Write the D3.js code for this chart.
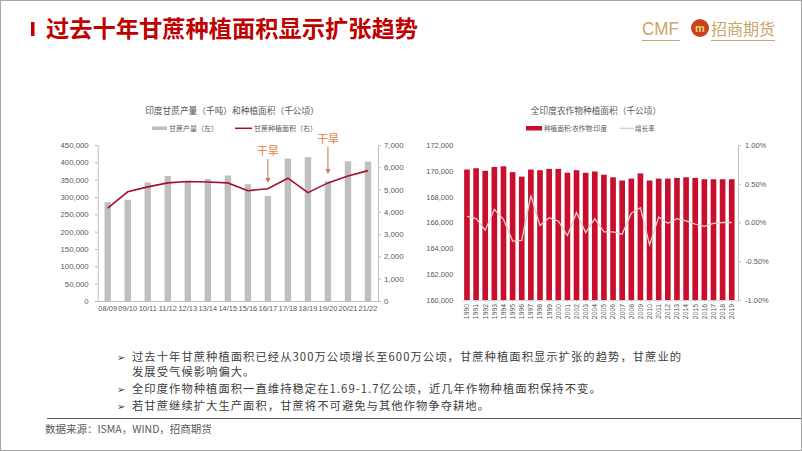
<!DOCTYPE html>
<html><head><meta charset="utf-8">
<script src="https://cdn.jsdelivr.net/npm/d3@7/dist/d3.min.js"></script>
<style>
html,body{margin:0;padding:0;background:#fff;}
svg{display:block;}
</style></head>
<body>
<svg id="c" width="802" height="451"></svg>
<script>
// ---------- data ----------
const seasons = ["08/09","09/10","10/11","11/12","12/13","13/14","14/15","15/16","16/17","17/18","18/19","19/20","20/21","21/22"];
const caneProduction = [285000,292000,342000,361000,344000,352000,362000,337000,303000,411000,415000,345000,403000,402000]; // 千吨 (left)
const caneArea = [4170,4900,5120,5300,5360,5340,5300,4950,5040,5510,4860,5300,5610,5850]; // 千公顷 (right)
const leftTicks = [0,50000,100000,150000,200000,250000,300000,350000,400000,450000];
const rightTicks = [0,1000,2000,3000,4000,5000,6000,7000];

const years = ["1990","1991","1992","1993","1994","1995","1996","1997","1998","1999","2000","2001","2002","2003","2004","2005","2006","2007","2008","2009","2010","2011","2012","2013","2014","2015","2016","2017","2018","2019"];
const cropArea = [170100,170200,170000,170300,170350,169900,169550,170100,170050,170150,170150,169850,170050,169850,169950,169700,169500,169250,169400,169800,169250,169400,169400,169450,169500,169450,169350,169350,169350,169350];
const growthRate = [0.0008,0.0005,-0.0010,0.0017,0.0004,-0.0024,-0.0023,0.0035,-0.0004,0.0006,0.0002,-0.0017,0.0013,-0.0013,0.0005,-0.0012,-0.0012,-0.0015,0.0012,0.0019,-0.0029,0.0007,-0.0001,0.0005,0.0002,-0.0002,-0.0005,-0.0001,0.0000,0.0000];
const cropTicks = [160000,162000,164000,166000,168000,170000,172000];
const pctTicks = [-0.01,-0.005,0,0.005,0.01];

const bullets = [
  ["过去十年甘蔗种植面积已经从300万公顷增长至600万公顷，甘蔗种植面积显示扩张的趋势，甘蔗业的","发展受气候影响偏大。"],
  ["全印度作物种植面积一直维持稳定在1.69-1.7亿公顷，近几年作物种植面积保持不变。"],
  ["若甘蔗继续扩大生产面积，甘蔗将不可避免与其他作物争夺耕地。"]
];

// ---------- styles ----------
const CJK = "'Noto Sans CJK SC','Noto Sans',sans-serif";
const NUM = "'Liberation Sans','DejaVu Sans',sans-serif";
const RED = "#c8102e";
const GRAY_TXT = "#595959";
const AX = "#bfbfbf";

const svg = d3.select("#c");
svg.append("rect").attr("x",0.5).attr("y",0.5).attr("width",801).attr("height",450)
  .attr("fill","#fff").attr("stroke","#a6a6a6").attr("stroke-width",1);

// ---------- header ----------
svg.append("rect").attr("x",31).attr("y",22).attr("width",3.5).attr("height",14).attr("fill","#c00000");
svg.append("text").attr("x",46).attr("y",36.5)
  .attr("font-family",CJK).attr("font-weight",700).attr("font-size",23)
  .attr("fill","#c00000").attr("textLength",372).attr("lengthAdjust","spacingAndGlyphs")
  .text("过去十年甘蔗种植面积显示扩张趋势");
// logo
const GOLD = "#c9a66b";
svg.append("text").attr("x",642).attr("y",35).attr("font-family",NUM).attr("font-size",19)
  .attr("fill",GOLD).attr("textLength",37).attr("lengthAdjust","spacingAndGlyphs").text("CMF");
svg.append("circle").attr("cx",700).attr("cy",28).attr("r",9).attr("fill","#c8421c");
svg.append("text").attr("x",700).attr("y",32).attr("text-anchor","middle").attr("font-family",NUM)
  .attr("font-weight",700).attr("font-size",11).attr("fill","#f6d27a").text("m");
svg.append("text").attr("x",711).attr("y",34.5).attr("font-family",CJK).attr("font-size",16)
  .attr("fill",GOLD).attr("textLength",64).attr("lengthAdjust","spacingAndGlyphs").text("招商期货");
svg.append("line").attr("x1",642).attr("x2",680).attr("y1",40.5).attr("y2",40.5).attr("stroke",GOLD).attr("stroke-width",1);
svg.append("line").attr("x1",711).attr("x2",775).attr("y1",40.5).attr("y2",40.5).attr("stroke",GOLD).attr("stroke-width",1);

function styleAxis(g){
  g.selectAll(".domain").attr("stroke",AX);
  g.selectAll(".tick line").attr("stroke",AX);
  g.selectAll(".tick text").attr("fill",GRAY_TXT).attr("font-family",NUM);
}

// ---------- left chart ----------
const L = {x0:97.7,x1:378,yTop:145,yBot:301};
const xL = d3.scaleBand().domain(seasons).range([L.x0,L.x1]).paddingInner(0.68).paddingOuter(0.34);
const yL = d3.scaleLinear().domain([0,450000]).range([L.yBot,L.yTop]);
const yR = d3.scaleLinear().domain([0,7000]).range([L.yBot,L.yTop]);

svg.append("text").attr("x",232).attr("y",114).attr("text-anchor","middle")
  .attr("font-family",CJK).attr("font-size",8.7).attr("fill",GRAY_TXT)
  .text("印度甘蔗产量（千吨）和种植面积（千公顷）");
// legend
svg.append("rect").attr("x",152).attr("y",126.5).attr("width",15).attr("height",3.5).attr("fill","#bfbfbf");
svg.append("text").attr("x",169).attr("y",131).attr("font-family",CJK).attr("font-size",7).attr("fill",GRAY_TXT).text("甘蔗产量（左）");
svg.append("line").attr("x1",235).attr("x2",252).attr("y1",128.3).attr("y2",128.3).attr("stroke","#a50f2d").attr("stroke-width",1.5);
svg.append("text").attr("x",254).attr("y",131).attr("font-family",CJK).attr("font-size",7).attr("fill",GRAY_TXT).text("甘蔗种植面积（右）");

const gAxL = svg.append("g").attr("transform",`translate(${L.x0},0)`)
  .call(d3.axisLeft(yL).tickValues(leftTicks).tickSize(3).tickPadding(6).tickFormat(d3.format(",")));
styleAxis(gAxL); gAxL.selectAll(".tick text").attr("font-size",7.8);
const gAxR = svg.append("g").attr("transform",`translate(${L.x1},0)`)
  .call(d3.axisRight(yR).tickValues(rightTicks).tickSize(3).tickPadding(3).tickFormat(d3.format(",")));
styleAxis(gAxR); gAxR.selectAll(".tick text").attr("font-size",7.8);
const gAxB = svg.append("g").attr("transform",`translate(0,${L.yBot})`)
  .call(d3.axisBottom(xL).tickSize(0).tickPadding(5));
styleAxis(gAxB); gAxB.selectAll(".tick text").attr("font-size",7.5);

svg.append("g").selectAll("rect").data(seasons).join("rect")
  .attr("x",d=>xL(d)).attr("width",xL.bandwidth())
  .attr("y",(d,i)=>yL(caneProduction[i])).attr("height",(d,i)=>L.yBot-yL(caneProduction[i]))
  .attr("fill","#bfbfbf");
svg.append("path").datum(seasons)
  .attr("d",d3.line().x(d=>xL(d)+xL.bandwidth()/2).y((d,i)=>yR(caneArea[i])))
  .attr("fill","none").attr("stroke","#a50f2d").attr("stroke-width",1.6);

// drought annotations
const droughts = [{s:"16/17",ty:151,a0:159,a1:183},{s:"19/20",ty:139,a0:147,a1:174}];
droughts.forEach(d=>{
  const cx = xL(d.s)+xL.bandwidth()/2;
  svg.append("text").attr("x",cx).attr("y",d.ty+4).attr("text-anchor","middle")
    .attr("font-family",CJK).attr("font-size",11).attr("fill","#e08040").text("干旱");
  svg.append("line").attr("x1",cx).attr("x2",cx).attr("y1",d.a0).attr("y2",d.a1-4)
    .attr("stroke","#c87a4a").attr("stroke-width",1);
  svg.append("path").attr("d",`M${cx-2.5},${d.a1-5}L${cx+2.5},${d.a1-5}L${cx},${d.a1}Z`).attr("fill","#c87a4a");
});

// ---------- right chart ----------
const R = {x0:462.4,x1:736.3,yTop:145,yBot:300,axR:738};
const xC = d3.scaleBand().domain(years).range([R.x0,R.x1]).paddingInner(0.38).paddingOuter(0.19);
const yC = d3.scaleLinear().domain([160000,172000]).range([R.yBot,R.yTop]);
const yP = d3.scaleLinear().domain([-0.01,0.01]).range([R.yBot,R.yTop]);

svg.append("text").attr("x",596).attr("y",114).attr("text-anchor","middle")
  .attr("font-family",CJK).attr("font-size",8.7).attr("fill",GRAY_TXT).text("全印度农作物种植面积（千公顷）");
svg.append("rect").attr("x",526).attr("y",126).attr("width",16).attr("height",4.5).attr("fill",RED);
svg.append("text").attr("x",544).attr("y",131).attr("font-family",CJK).attr("font-size",6.6).attr("fill",GRAY_TXT).text("种植面积:农作物:印度");
svg.append("line").attr("x1",620).attr("x2",634).attr("y1",128.3).attr("y2",128.3).attr("stroke","#d9c5c7").attr("stroke-width",1.2);
svg.append("text").attr("x",635).attr("y",131).attr("font-family",CJK).attr("font-size",6.6).attr("fill",GRAY_TXT).text("增长率");

const gCL = svg.append("g").attr("transform",`translate(${R.x0-4},0)`)
  .call(d3.axisLeft(yC).tickValues(cropTicks).tickSize(0).tickPadding(5).tickFormat(d3.format(",")));
styleAxis(gCL); gCL.select(".domain").remove(); gCL.selectAll(".tick text").attr("font-size",7.5);
const fmtP = d=>d3.format(".2%")(d).replace("−","-");
const gCR = svg.append("g").attr("transform",`translate(${R.axR},0)`)
  .call(d3.axisRight(yP).tickValues(pctTicks).tickSize(3).tickPadding(4).tickFormat(fmtP));
styleAxis(gCR); gCR.selectAll(".tick text").attr("font-size",7.5);

svg.append("g").selectAll("rect").data(years).join("rect")
  .attr("x",d=>xC(d)).attr("width",xC.bandwidth())
  .attr("y",(d,i)=>yC(cropArea[i])).attr("height",(d,i)=>R.yBot-yC(cropArea[i]))
  .attr("fill",RED);

const gCB = svg.append("g").attr("transform",`translate(0,${R.yBot})`)
  .call(d3.axisBottom(xC).tickSize(2).tickPadding(2));
styleAxis(gCB);
gCB.select(".domain").attr("stroke","#d9d9d9");
gCB.selectAll(".tick text").attr("font-size",6.8).attr("text-anchor","end")
  .attr("transform","rotate(-90)").attr("x",-4).attr("y",0).attr("dy","0.35em");

svg.append("path").datum(years)
  .attr("d",d3.line().x(d=>xC(d)+xC.bandwidth()/2).y((d,i)=>yP(growthRate[i])))
  .attr("fill","none").attr("stroke","#e3cfd1").attr("stroke-width",1.3);

// ---------- bullets ----------
const lineYs = [[361,376],[393],[410]];
bullets.forEach((b,i)=>{
  svg.append("text").attr("x",117).attr("y",lineYs[i][0]).attr("font-family","'DejaVu Sans',sans-serif")
    .attr("font-size",10).attr("fill","#404040").text("➢");
  b.forEach((t,j)=>{
    svg.append("text").attr("x",132).attr("y",lineYs[i][j]).attr("font-family",CJK)
      .attr("font-size",11.3).attr("letter-spacing",1.05).attr("fill","#404040").text(t);
  });
});
svg.append("line").attr("x1",47).attr("x2",801).attr("y1",418.5).attr("y2",418.5).attr("stroke","#595959").attr("stroke-width",1);
svg.append("text").attr("x",45).attr("y",433).attr("font-family",CJK).attr("font-size",10.5)
  .attr("fill",GRAY_TXT).text("数据来源：ISMA，WIND，招商期货");
</script>
</body></html>
